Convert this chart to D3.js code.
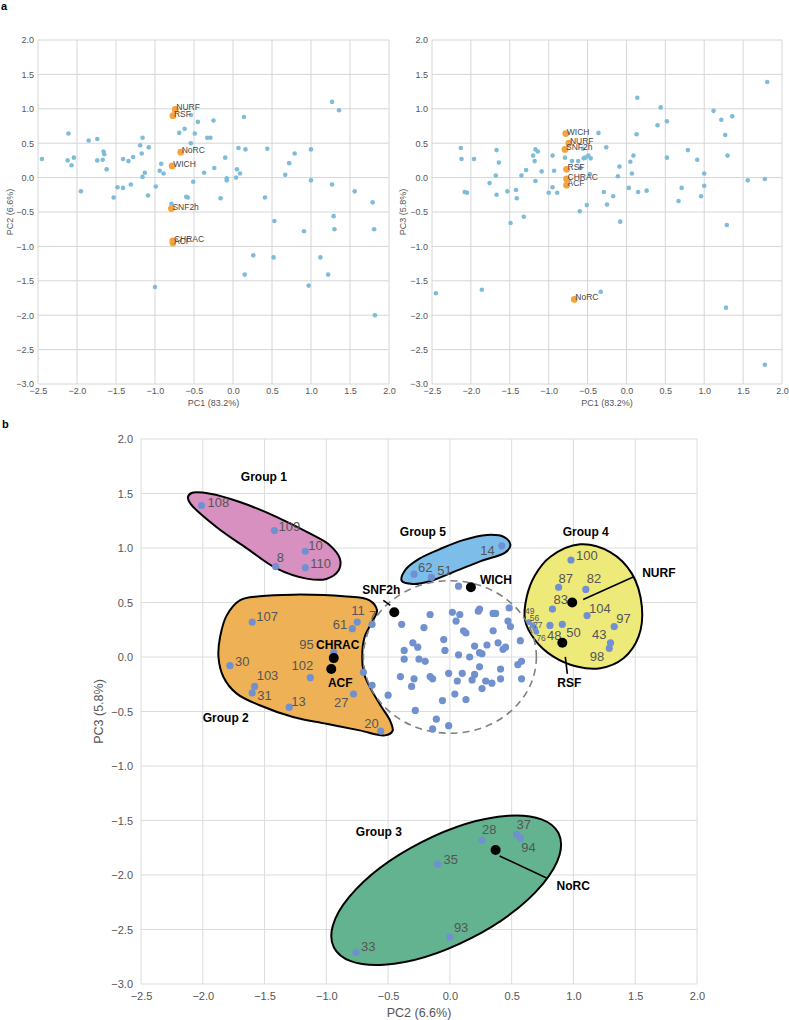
<!DOCTYPE html>
<html><head><meta charset="utf-8">
<script src="https://cdn.jsdelivr.net/npm/d3@7"></script>
<style>body{margin:0;background:#fff} text{font-family:"Liberation Sans",Arial,sans-serif}</style>
</head><body><svg id="c" width="789" height="1020"></svg>
<script>
// ---------------- DATA ----------------
const tickX = [-2.5,-2.0,-1.5,-1.0,-0.5,0.0,0.5,1.0,1.5,2.0];
const tickY = [-3.0,-2.5,-2.0,-1.5,-1.0,-0.5,0.0,0.5,1.0,1.5,2.0];

// panel a, left: PC1 vs PC2 (points)
const aLeftPts = [[-2.45,0.27],[-2.11,0.64],[-2.12,0.25],[-2.07,0.18],[-2.04,0.29],[-1.95,-0.20],[-1.85,0.54],[-1.74,0.56],[-1.74,0.25],[-1.67,0.26],[-1.66,0.38],[-1.65,0.34],[-1.62,0.12],[-1.53,-0.29],[-1.48,-0.14],[-1.41,-0.15],[-1.41,0.27],[-1.34,0.24],[-1.31,-0.10],[-1.28,0.30],[-1.19,0.47],[-1.16,0.58],[-1.17,0.35],[-1.13,0.07],[-1.16,0.01],[-1.08,0.44],[-1.09,-0.26],[-0.99,-0.13],[-1.00,-1.59],[-0.94,0.10],[-0.92,0.20],[-0.89,0.06],[-0.69,0.65],[-0.62,0.71],[-0.54,0.91],[-0.54,0.50],[-0.60,-0.28],[-0.58,-0.29],[-0.79,-0.38],[-0.49,0.64],[-0.45,0.81],[-0.51,-0.06],[-0.37,0.07],[-0.33,0.58],[-0.29,0.58],[-0.25,0.83],[-0.24,0.14],[-0.16,-0.30],[-0.10,0.29],[-0.08,-0.01],[-0.08,-0.04],[0.04,0.00],[0.05,0.12],[0.07,0.43],[0.09,0.06],[0.14,0.88],[0.16,0.41],[0.15,-1.41],[0.26,-1.13],[0.41,-0.29],[0.44,0.42],[0.53,-0.63],[0.52,-1.16],[0.67,0.04],[0.72,0.21],[0.79,0.35],[0.91,-0.78],[0.97,-1.57],[1.00,0.41],[1.00,-0.04],[1.12,-1.16],[1.22,-1.41],[1.27,1.10],[1.36,0.98],[1.27,-0.10],[1.29,-0.56],[1.30,-0.75],[1.56,-0.20],[1.79,-0.36],[1.81,-0.75],[1.82,-2.00]];

// panel a, right: PC1 vs PC3 (points)
const aRightPts = [[-2.45,-1.68],[-2.13,0.43],[-2.12,0.27],[-2.08,-0.21],[-2.05,-0.22],[-1.96,0.27],[-1.86,-1.63],[-1.76,-0.08],[-1.67,0.40],[-1.64,0.22],[-1.68,0.03],[-1.67,-0.25],[-1.53,-0.20],[-1.49,-0.66],[-1.42,-0.18],[-1.41,-0.30],[-1.35,0.03],[-1.32,-0.57],[-1.29,0.11],[-1.20,0.32],[-1.17,0.41],[-1.14,0.38],[-1.18,0.24],[-1.17,-0.05],[-1.09,0.09],[-0.95,0.32],[-1.00,-0.22],[-0.95,-0.14],[-0.93,0.10],[-0.89,-0.22],[-0.79,0.29],[-0.70,0.24],[-0.62,0.24],[-0.60,-0.49],[-0.59,0.14],[-0.55,0.28],[-0.53,0.29],[-0.56,0.42],[-0.51,-0.40],[-0.49,0.32],[-0.46,0.28],[-0.47,0.05],[-0.36,0.65],[-0.33,-1.66],[-0.29,-0.21],[-0.26,0.44],[-0.25,-0.39],[-0.17,-0.27],[-0.11,0.02],[-0.09,0.16],[-0.08,-0.64],[0.03,-0.15],[0.05,0.23],[0.07,0.06],[0.09,0.32],[0.13,0.63],[0.14,1.16],[0.15,-0.21],[0.26,-0.19],[0.40,0.76],[0.44,1.02],[0.52,0.82],[0.52,0.29],[0.67,-0.34],[0.71,-0.15],[0.79,0.40],[0.91,0.26],[0.96,-0.27],[1.00,0.06],[1.00,-0.12],[1.12,0.97],[1.22,0.84],[1.27,0.62],[1.30,0.32],[1.29,-0.69],[1.28,-1.89],[1.36,0.89],[1.56,-0.04],[1.78,-0.02],[1.81,1.39],[1.78,-2.72]];

// remodeler complexes
const complexes = ["NURF","RSF","NoRC","WICH","SNF2h","CHRAC","ACF"];
const complexPC1 = [-0.74,-0.77,-0.67,-0.78,-0.79,-0.77,-0.77];
const complexPC2 = [0.99,0.90,0.37,0.17,-0.45,-0.92,-0.95];
const complexPC3 = [0.50,0.12,-1.77,0.64,0.41,-0.02,-0.11];
// panel b positions of complexes (PC2, PC3)
const bComplexPC2 = [0.99,0.91,0.37,0.17,-0.45,-0.94,-0.96];
const bComplexPC3 = [0.50,0.13,-1.77,0.64,0.41,-0.01,-0.11];

// panel b, labelled points (PC2, PC3)
const bIds = ["108","109","10","8","110","107","30","103","31","13","102","95","61","11","7","27","20","62","51","14","100","87","82","83","104","97","50","48","43","98","49","56","77","76","28","37","94","35","93","33"];
const bPC2 = [-2.01,-1.42,-1.17,-1.41,-1.17,-1.60,-1.78,-1.58,-1.60,-1.30,-1.13,-0.94,-0.79,-0.75,-0.63,-0.78,-0.56,-0.29,-0.15,0.42,0.98,0.88,1.10,0.83,1.11,1.33,0.91,0.81,1.30,1.29,0.64,0.67,0.69,0.70,0.26,0.54,0.57,-0.10,0.00,-0.76];
const bPC3 = [1.39,1.16,0.97,0.83,0.82,0.32,-0.08,-0.27,-0.33,-0.46,-0.19,0.04,0.26,0.32,0.30,-0.34,-0.68,0.76,0.73,1.02,0.89,0.64,0.62,0.44,0.38,0.28,0.30,0.29,0.13,0.08,0.32,0.29,0.26,0.23,-1.68,-1.63,-1.66,-1.90,-2.57,-2.71];
// panel b, unlabelled central cluster (PC2, PC3)
const bCluster = [[0.07,0.65],[-0.39,0.30],[-0.21,0.27],[-0.16,0.39],[0.02,0.41],[0.05,0.33],[0.08,0.39],[0.23,0.42],[0.24,0.44],[0.35,0.40],[0.37,0.40],[0.48,0.45],[0.47,0.33],[0.49,0.28],[0.11,0.24],[0.13,0.22],[0.35,0.24],[-0.05,0.16],[-0.30,0.13],[-0.26,0.09],[-0.37,0.06],[-0.37,-0.02],[-0.25,-0.02],[-0.20,-0.04],[-0.04,0.06],[0.07,0.02],[0.16,0.00],[0.20,0.10],[0.24,0.04],[0.26,0.03],[0.30,0.11],[0.39,0.13],[0.43,0.07],[0.45,0.09],[0.57,0.15],[0.58,-0.04],[0.55,-0.07],[-0.40,-0.18],[-0.29,-0.20],[-0.31,-0.27],[-0.16,-0.18],[-0.14,-0.20],[-0.01,-0.15],[0.10,-0.15],[0.20,-0.16],[0.24,-0.09],[0.06,-0.22],[0.18,-0.21],[0.29,-0.22],[0.34,-0.24],[0.41,-0.11],[0.41,-0.20],[0.58,-0.20],[0.26,-0.29],[0.04,-0.34],[0.13,-0.39],[-0.06,-0.40],[-0.50,-0.35],[-0.63,-0.26],[-0.70,-0.14],[-0.28,-0.49],[-0.11,-0.57],[-0.01,-0.63],[-0.14,-0.66]];

// group outlines (PC2, PC3)
const groupNames = ["Group 1","Group 2","Group 3","Group 4","Group 5"];
const group1 = [[-2.09,1.505],[-1.94,1.498],[-1.70,1.422],[-1.40,1.284],[-1.13,1.131],[-0.97,1.024],[-0.89,0.902],[-0.90,0.795],[-1.00,0.716],[-1.16,0.719],[-1.40,0.810],[-1.64,0.994],[-1.89,1.193],[-2.10,1.407],[-2.12,1.468]];
const group2 = [[-1.70,0.520],[-1.54,0.557],[-1.27,0.572],[-0.86,0.557],[-0.65,0.520],[-0.59,0.428],[-0.63,0.321],[-0.69,0.183],[-0.71,0.000],[-0.695,-0.153],[-0.633,-0.306],[-0.553,-0.459],[-0.485,-0.581],[-0.464,-0.679],[-0.526,-0.719],[-0.73,-0.673],[-1.00,-0.612],[-1.27,-0.550],[-1.54,-0.443],[-1.725,-0.336],[-1.833,-0.183],[-1.873,0.000],[-1.86,0.183],[-1.806,0.382]];
const group3Center = [-0.03,-2.14];   // Group 3 is an ellipse
const group4 = [[0.811,0.918],[1.054,1.034],[1.297,0.963],[1.473,0.765],[1.554,0.460],[1.527,0.186],[1.405,-0.012],[1.216,-0.104],[1.027,-0.088],[0.838,0.003],[0.689,0.155],[0.608,0.338],[0.622,0.552],[0.689,0.750]];
const group5 = [[-0.36,0.80],[-0.25,0.90],[-0.08,0.99],[0.10,1.07],[0.30,1.12],[0.44,1.10],[0.49,1.03],[0.45,0.96],[0.25,0.88],[0.05,0.79],[-0.15,0.70],[-0.30,0.67],[-0.39,0.70]];
const groupLabelPC2 = [-1.506,-1.814,-0.575,1.10,-0.219];
const groupLabelPC3 = [1.612,-0.599,-1.645,1.112,1.112];
const clusterCenter = [0.0, 0.0], clusterRadius = 0.70;

// ---------------- LAYOUT / STYLE ----------------
const font = '"Liberation Sans",Arial,sans-serif';
const groupFill = ["#d890c0","#efb155","#64b390","#eeea7a","#7cbde9"];
const group3Shape = {rx:126, ry:54, angle:-27};
const bLabelOffset = {"108":[6,2,"start"],"109":[4,0,"start"],"10":[3,-1,"start"],"8":[1,-5,"start"],"110":[5,0,"start"],
 "107":[4,-1,"start"],"30":[5,0,"start"],"103":[2,-6,"start"],"31":[5,7,"start"],"13":[2,-1,"start"],"102":[3,-8,"end"],
 "95":[-20,-4,"end"],"61":[-5,0,"end"],"11":[-6,-7,"start"],"7":[-3,-4,"start"],"27":[-5,13,"end"],"20":[-2,-3,"end"],
 "62":[4,-2,"start"],"51":[6,-2,"start"],"14":[-7,9,"end"],"100":[5,0,"start"],"87":[0,-4,"start"],"82":[1,-6,"start"],
 "83":[1,-5,"start"],"104":[2,-3,"start"],"97":[2,-3,"start"],"50":[4,13,"start"],"48":[-3,15,"start"],"43":[-4,-4,"end"],
 "98":[-5,13,"end"],"49":[-4,-8,"start"],"56":[-3,-4,"start"],"77":[-2,-1,"start"],"76":[0,9,"start"],
 "28":[0,-6,"start"],"37":[0,-6,"start"],"94":[1,14,"start"],"35":[6,0,"start"],"93":[4,-5,"start"],"33":[5,-1,"start"]};
const smallIds = new Set(["49","56","77","76"]);
// complex annotation in panel b: [labelDx, labelDy, anchor, leader (x1,y1,x2,y2) or null]
const bComplexLabel = {
 "NURF":[70,-26,"start",[11,-3,61,-25.5]],
 "RSF":[7,44.5,"middle",[3,14,5,31]],
 "NoRC":[61,40,"start",[4,6,51,28]],
 "WICH":[9,-3,"start",null],
 "SNF2h":[-13,-18,"middle",[-11,-12,-4,-7]],
 "CHRAC":[4,-9,"middle",null],
 "ACF":[9,18,"middle",null]};

const svg = d3.select("#c");

// ---------------- PANEL A ----------------
const aY = d3.scaleLinear([-3,2],[384,40]);
const aXL = d3.scaleLinear([-2.5,2],[38,389]);
const aXR = d3.scaleLinear([-2.5,2],[432,782]);
const fmt = d3.format(".1f");

function gridAxes(X, Y, opt){
  const g = svg.append("g");
  g.append("g").selectAll("line").data(tickX).join("line")
    .attr("x1",d=>X(d)).attr("x2",d=>X(d)).attr("y1",Y(-3)).attr("y2",Y(2))
    .attr("stroke",opt.grid).attr("stroke-width",1);
  g.append("g").selectAll("line").data(tickY).join("line")
    .attr("y1",d=>Y(d)).attr("y2",d=>Y(d)).attr("x1",X(-2.5)).attr("x2",X(2))
    .attr("stroke",opt.grid).attr("stroke-width",1);
  const ax = g.append("g").attr("transform",`translate(0,${Y(-3)})`)
    .call(d3.axisBottom(X).tickValues(tickX).tickFormat(fmt).tickSize(0).tickPadding(opt.padX));
  const ay = g.append("g").attr("transform",`translate(${X(-2.5)},0)`)
    .call(d3.axisLeft(Y).tickValues(tickY).tickFormat(fmt).tickSize(0).tickPadding(opt.padY));
  [ax,ay].forEach(a=>{a.select(".domain").remove();
    a.selectAll("text").attr("fill",opt.tick).style("font-size",opt.fs+"px").style("font-family",font);});
  g.append("text").attr("x",(X(-2.5)+X(2))/2).attr("y",opt.xtY).attr("text-anchor","middle")
    .attr("fill",opt.tick).style("font-size",opt.tfs+"px").text(opt.xt);
  g.append("text").attr("transform",`translate(${opt.ytX},${(Y(-3)+Y(2))/2}) rotate(-90)`).attr("text-anchor","middle")
    .attr("fill",opt.tick).style("font-size",opt.tfs+"px").text(opt.yt);
  return g;
}

function panelA(X, pts, cy, yt, ytX){
  gridAxes(X, aY, {grid:"#d6d6d6",tick:"#555",fs:9,padX:4,padY:4,xtY:406,tfs:9,xt:"PC1 (83.2%)",yt:yt,ytX:ytX});
  svg.append("g").selectAll("circle").data(pts).join("circle")
    .attr("cx",d=>X(d[0])).attr("cy",d=>aY(d[1])).attr("r",2.3).attr("fill","#7fbcd8");
  const cx = complexPC1;
  svg.append("g").selectAll("circle").data(complexes).join("circle")
    .attr("cx",(d,i)=>X(cx[i])).attr("cy",(d,i)=>aY(cy[i])).attr("r",3.4).attr("fill","#f5a33a");
  svg.append("g").selectAll("text").data(complexes).join("text")
    .attr("x",(d,i)=>X(cx[i])+1).attr("y",(d,i)=>aY(cy[i])+1)
    .attr("fill","#444").style("font-size","8.5px").text(d=>d);
}
panelA(aXL, aLeftPts, complexPC2, "PC2 (6.6%)", 13);
panelA(aXR, aRightPts, complexPC3, "PC3 (5.8%)", 406);

svg.append("text").attr("x",1).attr("y",10).style("font-size","11px").style("font-weight","bold").text("a");
svg.append("text").attr("x",2).attr("y",428).style("font-size","11px").style("font-weight","bold").text("b");

// ---------------- PANEL B ----------------
const bX = d3.scaleLinear([-2.5,2],[141,697]);
const bY = d3.scaleLinear([-3,2],[984,439]);
gridAxes(bX, bY, {grid:"#dcdcdc",tick:"#555",fs:11,padX:8,padY:8,xtY:1017,tfs:12.5,xt:"PC2 (6.6%)",yt:"PC3 (5.8%)",ytX:103});

const line = d3.line().x(d=>bX(d[0])).y(d=>bY(d[1])).curve(d3.curveCatmullRomClosed.alpha(0.5));
const shapes = svg.append("g");
const polyGroups = [[group1,0],[group2,1],[group4,3],[group5,4]];
shapes.selectAll("path").data(polyGroups).join("path")
  .attr("d",d=>line(d[0])).attr("fill",d=>groupFill[d[1]]).attr("stroke","#000").attr("stroke-width",2);
shapes.append("ellipse")
  .attr("transform",`translate(${bX(group3Center[0])},${bY(group3Center[1])}) rotate(${group3Shape.angle})`)
  .attr("rx",group3Shape.rx).attr("ry",group3Shape.ry)
  .attr("fill",groupFill[2]).attr("stroke","#000").attr("stroke-width",2);

svg.append("ellipse").attr("cx",bX(clusterCenter[0])).attr("cy",bY(clusterCenter[1]))
  .attr("rx",bX(clusterRadius)-bX(0)).attr("ry",bY(0)-bY(clusterRadius))
  .attr("fill","none").attr("stroke","#808080").attr("stroke-width",1.6).attr("stroke-dasharray","7,5");

const ptColor = "#7090d0";
svg.append("g").selectAll("circle").data(bCluster).join("circle")
  .attr("cx",d=>bX(d[0])).attr("cy",d=>bY(d[1])).attr("r",3.6).attr("fill",ptColor);
svg.append("g").selectAll("circle").data(bIds).join("circle")
  .attr("cx",(d,i)=>bX(bPC2[i])).attr("cy",(d,i)=>bY(bPC3[i])).attr("r",(d)=>smallIds.has(d)?2.8:3.6).attr("fill",ptColor);
svg.append("g").selectAll("text").data(bIds).join("text")
  .attr("x",(d,i)=>bX(bPC2[i])+bLabelOffset[d][0]).attr("y",(d,i)=>bY(bPC3[i])+bLabelOffset[d][1])
  .attr("text-anchor",d=>bLabelOffset[d][2]).attr("fill","#555")
  .style("font-size",d=>smallIds.has(d)?"8.5px":"13px").text(d=>d);

// group labels
svg.append("g").selectAll("text").data(groupNames).join("text")
  .attr("x",(d,i)=>bX(groupLabelPC2[i])).attr("y",(d,i)=>bY(groupLabelPC3[i]))
  .attr("text-anchor","middle").style("font-size","12px").style("font-weight","bold").attr("fill","#000").text(d=>d);

// complexes in panel b
const cg = svg.append("g");
complexes.forEach((c,i)=>{
  const x = bX(bComplexPC2[i]), y = bY(bComplexPC3[i]);
  const L = bComplexLabel[c];
  if (L[3]) cg.append("line").attr("x1",x+L[3][0]).attr("y1",y+L[3][1]).attr("x2",x+L[3][2]).attr("y2",y+L[3][3])
      .attr("stroke","#000").attr("stroke-width",1.6);
  cg.append("circle").attr("cx",x).attr("cy",y).attr("r",5).attr("fill","#000");
  cg.append("text").attr("x",x+L[0]).attr("y",y+L[1]).attr("text-anchor",L[2])
    .style("font-size","12px").style("font-weight","bold").attr("fill","#000").text(c);
});
</script></body></html>
